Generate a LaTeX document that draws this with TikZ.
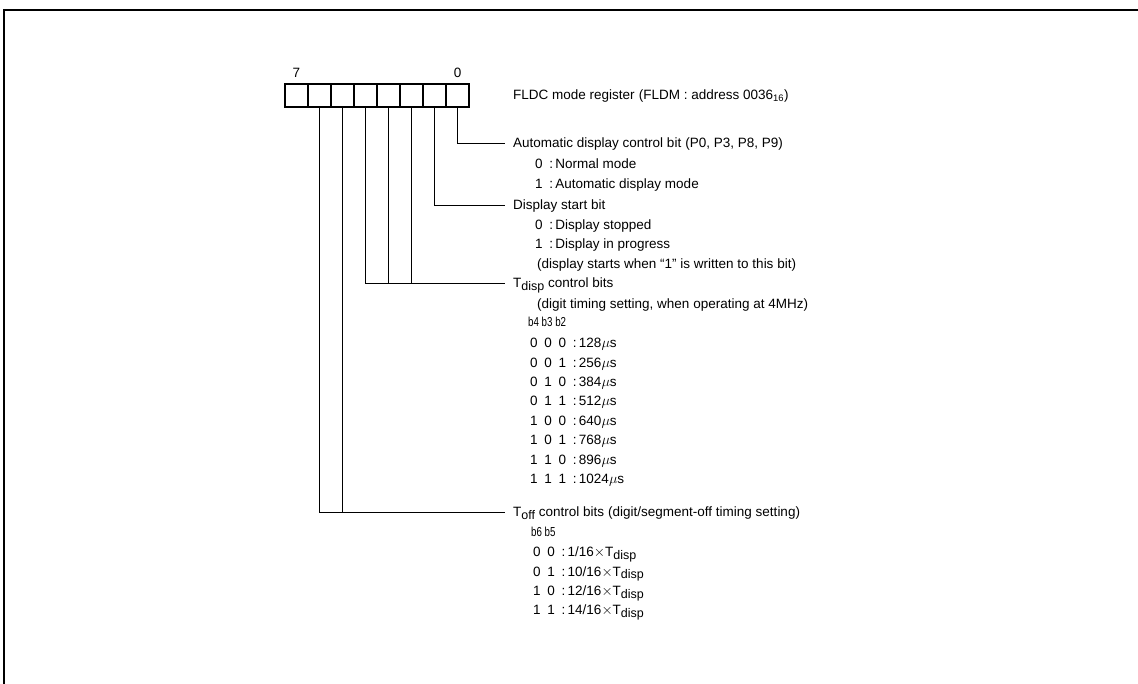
\documentclass[tikz,border=0pt]{standalone}
\usepackage{fontspec}
\setmainfont{Liberation Sans}
\usetikzlibrary{positioning}

\newcommand{\lowsub}[1]{\raisebox{-0.4ex}{\fontsize{12.5}{13}\selectfont #1}}
\newcommand{\narrowtxt}[1]{\scalebox{0.75}[1]{\fontsize{13}{14}\selectfont #1}}
\newcommand{\bitsep}{\hspace{0.5em}}

\begin{document}
\begin{tikzpicture}[x=1pt,y=-1pt,
    font=\fontsize{13.5}{16}\selectfont,
    cell/.style={draw, line width=1.3pt, minimum width=23pt, minimum height=23pt, inner sep=0pt},
    txt/.style={anchor=west, inner xsep=8pt, inner ysep=0pt, text height=9.2pt, text depth=0pt},
    lead/.style={line width=1pt}
  ]
  \useasboundingbox (0,0) rectangle (1138,683);

  % Rahmen
  \draw[line width=1.8pt] (4,690) -- (4,10) -- (1145,10);

  % Register
  \foreach \i in {0,...,7}
    \node[cell] (c\i) at ({457.5-23*\i},95.5) {};
  \node[above=2pt of c7] (b7) {7};
  \node[above=2pt of c0] (b0) {0};
  \node[txt] (reg) at (505,95) {FLDC mode register\hspace{0.3em}(FLDM : address 0036\textsubscript{16})};

  % Bit 0
  \node[txt] (auto) at (505,143) {Automatic display control bit\hspace{0.3em}(P0, P3, P8, P9)};
  \node[txt] (auto0) at (527,164) {0\bitsep:\,Normal mode};
  \node[txt] (auto1) at (527,184) {1\bitsep:\,Automatic display mode};
  \draw[lead] (c0.south) |- (auto.west);

  % Bit 1
  \node[txt] (start) at (505,205) {Display start bit};
  \node[txt] (start0) at (527,225) {0\bitsep:\,Display stopped};
  \node[txt] (start1) at (527,244) {1\bitsep:\,Display in progress};
  \node[txt] (startnote) at (529,264) {(display starts when “1” is written to this bit)};
  \draw[lead] (c1.south) |- (start.west);

  % Bits 2-4
  \node[txt] (tdisp) at (505,283) {T\lowsub{disp} control bits};
  \node[txt] (tdispnote) at (529,304) {(digit timing setting, when operating at 4MHz)};
  \node[txt] (tdisphead) at (520,322) {\narrowtxt{b4 b3 b2}};
  \foreach \a/\b/\c/\t [count=\k from 0] in {0/0/0/128,0/0/1/256,0/1/0/384,0/1/1/512,1/0/0/640,1/0/1/768,1/1/0/896,1/1/1/1024}
    \node[txt] (tdisprow\k) at (522,{343+19.43*\k}) {\a\bitsep\b\bitsep\c\bitsep:\,\t$\mu$s};
  \draw[lead] (c4.south) |- (tdisp.west);
  \draw[lead] (c3.south) -- (c3.south |- tdisp.west);
  \draw[lead] (c2.south) -- (c2.south |- tdisp.west);

  % Bits 5-6
  \node[txt] (toff) at (505,512) {T\lowsub{off} control bits\hspace{0.3em}(digit/segment-off timing setting)};
  \node[txt] (toffhead) at (523,532) {\narrowtxt{b6 b5}};
  \foreach \a/\b/\t [count=\k from 0] in {0/0/1,0/1/10,1/0/12,1/1/14}
    \node[txt] (toffrow\k) at (525,{552+19.4*\k}) {\a\bitsep\b\bitsep:\,\t/16$\times$T\lowsub{disp}};
  \draw[lead] (c6.south) |- (toff.west);
  \draw[lead] (c5.south) -- (c5.south |- toff.west);
\end{tikzpicture}
\end{document}
